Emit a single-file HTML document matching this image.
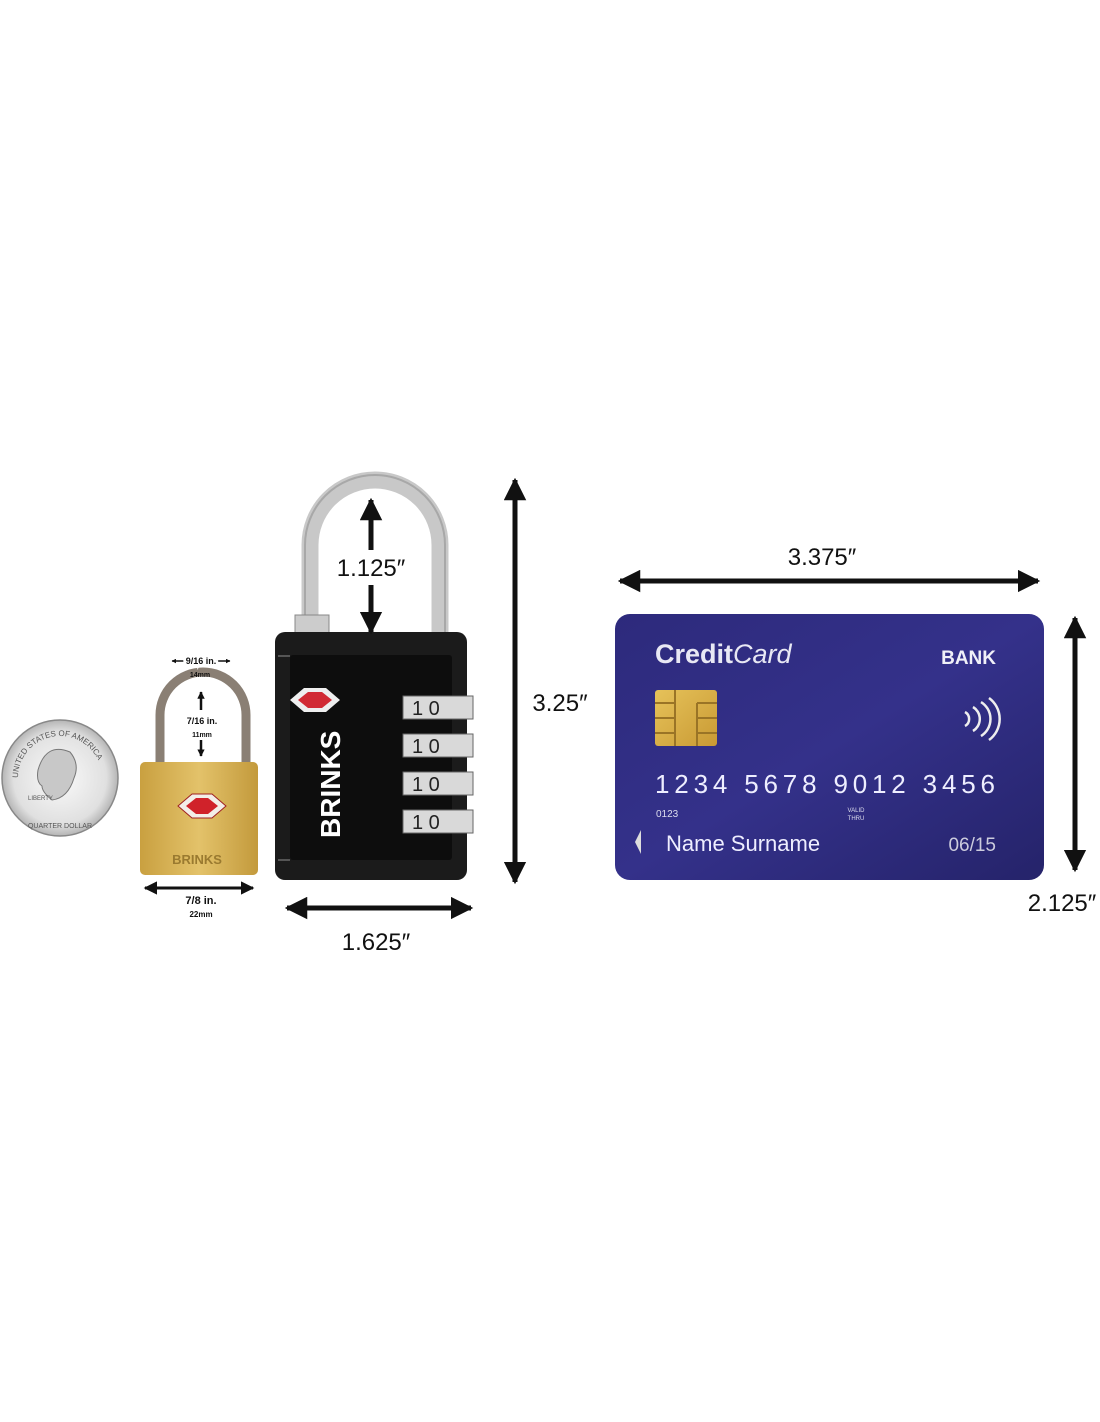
<!DOCTYPE html>
<html><head><style>
html,body{margin:0;padding:0;background:#fff;}
svg{display:block;}
text{font-family:"Liberation Sans",sans-serif;}
</style></head><body>
<svg width="1100" height="1422" viewBox="0 0 1100 1422" xmlns="http://www.w3.org/2000/svg">
<defs>
<marker id="ah" viewBox="0 0 10 10" refX="9" refY="5" markerWidth="4.5" markerHeight="4.5" orient="auto-start-reverse"><path d="M0,0 L10,5 L0,10 z" fill="#111"/></marker>
<marker id="as" viewBox="0 0 10 10" refX="9" refY="5" markerWidth="3" markerHeight="3" orient="auto-start-reverse"><path d="M0,0 L10,5 L0,10 z" fill="#111"/></marker>
<linearGradient id="card" x1="0" y1="0" x2="1" y2="1"><stop offset="0" stop-color="#2d2a7c"/><stop offset="0.5" stop-color="#34318a"/><stop offset="1" stop-color="#25236a"/></linearGradient>
<linearGradient id="gold" x1="0" y1="0" x2="1" y2="1"><stop offset="0" stop-color="#e6c25a"/><stop offset="1" stop-color="#c99a34"/></linearGradient>
<linearGradient id="brass" x1="0" y1="0" x2="1" y2="0"><stop offset="0" stop-color="#c9a040"/><stop offset="0.5" stop-color="#e3c26a"/><stop offset="1" stop-color="#c39a3c"/></linearGradient>
<radialGradient id="coin"><stop offset="0" stop-color="#fafafa"/><stop offset="0.8" stop-color="#e0e0e0"/><stop offset="1" stop-color="#b5b5b5"/></radialGradient>
</defs>

<!-- quarter -->
<circle cx="60" cy="778" r="58" fill="url(#coin)" stroke="#888" stroke-width="1.5"/>
<path id="carc" d="M18,778 a42,42 0 0 1 84,0" fill="none"/>
<text font-size="8" fill="#555"><textPath href="#carc">UNITED STATES OF AMERICA</textPath></text>
<path d="M38,770 q8,-28 32,-18 q10,12 4,26 q-6,20 -22,22 q-10,-8 -10,-14 q-6,-4 -4,-16z" fill="#c8c8c8" stroke="#777"/>
<text x="28" y="800" font-size="6" fill="#555">LIBERTY</text>
<text x="60" y="828" font-size="7" fill="#555" text-anchor="middle">QUARTER DOLLAR</text>

<!-- small lock -->
<path d="M160,765 V715 a43,43 0 0 1 86,0 V765" fill="none" stroke="#8a7f74" stroke-width="9"/>
<rect x="140" y="762" width="118" height="113" rx="5" fill="url(#brass)"/>
<path d="M178,806 l14,-12 h20 l14,12 l-14,12 h-20z" fill="#f3eee8" stroke="#a02020"/>
<path d="M186,806 l10,-8 h12 l10,8 l-10,8 h-12z" fill="#d0222a"/>
<text x="197" y="864" font-size="13" fill="#9a7a30" text-anchor="middle" font-weight="bold">BRINKS</text>
<line x1="172" y1="661" x2="230" y2="661" stroke="#111" marker-start="url(#as)" marker-end="url(#as)" stroke-width="1.5"/>
<text x="201" y="664" font-size="9" font-weight="bold" text-anchor="middle" fill="#111" style="paint-order:stroke" stroke="#fff" stroke-width="5">9/16 in.</text>
<text x="200" y="677" font-size="7" font-weight="bold" text-anchor="middle" fill="#111">14mm</text>
<line x1="201" y1="710" x2="201" y2="692" stroke="#111" stroke-width="2.5" marker-end="url(#as)"/>
<line x1="201" y1="740" x2="201" y2="756" stroke="#111" stroke-width="2.5" marker-end="url(#as)"/>
<text x="202" y="724" font-size="9" font-weight="bold" text-anchor="middle" fill="#111">7/16 in.</text>
<text x="202" y="737" font-size="7" font-weight="bold" text-anchor="middle" fill="#111">11mm</text>
<line x1="145" y1="888" x2="253" y2="888" stroke="#111" stroke-width="3" marker-start="url(#ah)" marker-end="url(#ah)"/>
<text x="201" y="904" font-size="11" font-weight="bold" text-anchor="middle" fill="#111">7/8 in.</text>
<text x="201" y="917" font-size="8" font-weight="bold" text-anchor="middle" fill="#111">22mm</text>

<!-- big lock -->
<path d="M310,636 V545 a65,65 0 0 1 130,0 V636" fill="none" stroke="#c8c8c8" stroke-width="17"/>
<path d="M305,636 V545 a70,70 0 0 1 140,0 V636" fill="none" stroke="#888" stroke-width="2" opacity="0.5"/>
<rect x="295" y="615" width="34" height="22" fill="#ccc" stroke="#888"/>
<rect x="275" y="632" width="192" height="248" rx="10" fill="#1b1b1b"/>
<rect x="290" y="655" width="162" height="205" rx="3" fill="#0d0d0d"/>
<path d="M290,656 L278,656 M290,860 L278,860" stroke="#555" stroke-width="2"/>
<path d="M290,700 l14,-12 h22 l14,12 l-14,12 h-22z" fill="#eee"/>
<path d="M298,700 l10,-8 h14 l10,8 l-10,8 h-14z" fill="#d12a34"/>
<text transform="translate(340,838) rotate(-90)" font-size="28" font-weight="bold" fill="#fff">BRINKS</text>
<g font-family="Liberation Sans" font-size="20" fill="#222">
<rect x="403" y="696" width="70" height="23" fill="#d9d9d9" stroke="#666"/><text x="412" y="715">1 0</text>
<rect x="403" y="734" width="70" height="23" fill="#d9d9d9" stroke="#666"/><text x="412" y="753">1 0</text>
<rect x="403" y="772" width="70" height="23" fill="#d9d9d9" stroke="#666"/><text x="412" y="791">1 0</text>
<rect x="403" y="810" width="70" height="23" fill="#d9d9d9" stroke="#666"/><text x="412" y="829">1 0</text>
</g>
<line x1="371" y1="550" x2="371" y2="500" stroke="#111" stroke-width="5" marker-end="url(#ah)"/>
<line x1="371" y1="585" x2="371" y2="632" stroke="#111" stroke-width="5" marker-end="url(#ah)"/>
<text x="371" y="576" font-size="24" text-anchor="middle" fill="#111">1.125″</text>

<line x1="515" y1="480" x2="515" y2="882" stroke="#111" stroke-width="5" marker-start="url(#ah)" marker-end="url(#ah)"/>
<text x="560" y="711" font-size="24" text-anchor="middle" fill="#111">3.25″</text>
<line x1="287" y1="908" x2="471" y2="908" stroke="#111" stroke-width="5" marker-start="url(#ah)" marker-end="url(#ah)"/>
<text x="376" y="950" font-size="24" text-anchor="middle" fill="#111">1.625″</text>

<!-- card -->
<line x1="620" y1="581" x2="1038" y2="581" stroke="#111" stroke-width="5" marker-start="url(#ah)" marker-end="url(#ah)"/>
<text x="822" y="565" font-size="24" text-anchor="middle" fill="#111">3.375″</text>
<line x1="1075" y1="618" x2="1075" y2="870" stroke="#111" stroke-width="5" marker-start="url(#ah)" marker-end="url(#ah)"/>
<text x="1062" y="911" font-size="24" text-anchor="middle" fill="#111">2.125″</text>

<rect x="615" y="614" width="429" height="266" rx="15" fill="url(#card)"/>
<text x="655" y="663" font-size="27" font-weight="bold" fill="#e8e8f4">Credit<tspan font-weight="normal" font-style="italic">Card</tspan></text>
<text x="996" y="664" font-size="19" font-weight="bold" fill="#f0f0f8" text-anchor="end">BANK</text>
<rect x="655" y="690" width="62" height="56" rx="3" fill="url(#gold)"/>
<path d="M655,703 h20 M655,718 h20 M655,733 h20 M697,703 h20 M697,718 h20 M697,733 h20 M675,690 v56 M697,703 v43" stroke="#9a7426" stroke-width="2" fill="none"/>
<path d="M966,712 a8,8 0 0 1 0,14 M974,707 a14,14 0 0 1 0,24 M982,702 a20,20 0 0 1 0,34 M990,698 a26,26 0 0 1 0,42" fill="none" stroke="#eee" stroke-width="2.5" transform="translate(-1,0)"/>
<text x="655" y="793" font-family="Liberation Mono,monospace" font-size="26" fill="#eef" textLength="340">1234 5678 9012 3456</text>
<text x="656" y="817" font-size="10" fill="#dde">0123</text>
<text x="856" y="812" font-size="6" fill="#dde" text-anchor="middle">VALID</text>
<text x="856" y="820" font-size="6" fill="#dde" text-anchor="middle">THRU</text>
<path d="M641,830 l-6,12 l6,12z" fill="#ddd"/>
<text x="666" y="851" font-family="Liberation Mono,monospace" font-size="22" fill="#eef">Name Surname</text>
<text x="996" y="851" font-family="Liberation Mono,monospace" font-size="19" fill="#ccd" text-anchor="end">06/15</text>
</svg>
</body></html>
